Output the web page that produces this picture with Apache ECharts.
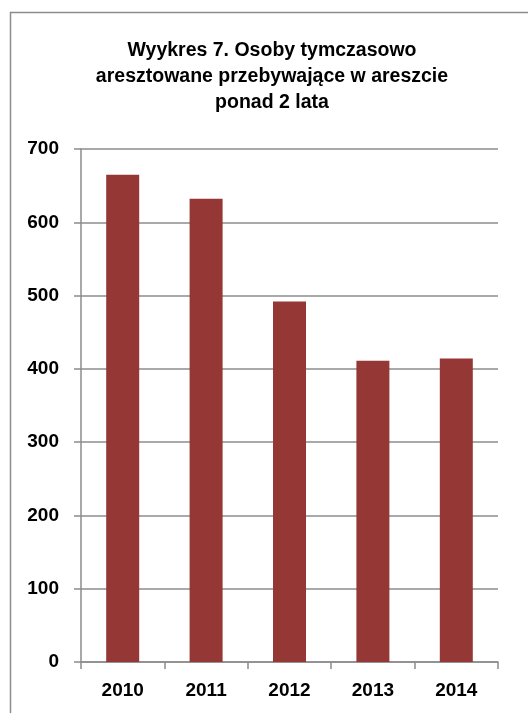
<!DOCTYPE html>
<html>
<head>
<meta charset="utf-8">
<script src="https://cdn.jsdelivr.net/npm/echarts@6/dist/echarts.min.js"></script>
<style>
  html, body { margin: 0; padding: 0; background: #fff; }
  #chart { width: 528px; height: 713px; }
</style>
</head>
<body>
<div id="chart"></div>
<script>
const years = ['2010', '2011', '2012', '2013', '2014']
const persons = [665, 632, 492, 411, 414]
const yTicks = [0, 100, 200, 300, 400, 500, 600, 700]

const font = '"Liberation Sans", Arial, sans-serif'
const gray = '#8c8c8c'

const chart = echarts.init(document.getElementById('chart'))

chart.setOption({
    animation: false,
    backgroundColor: '#fff',
    graphic: [
        {
            type: 'rect',
            shape: { x: 10.5, y: 12.5, width: 700, height: 900 },
            style: { fill: 'none', stroke: gray, lineWidth: 1.5 },
            silent: true,
        },
    ],
    title: {
        text: 'Wyykres 7. Osoby tymczasowo\naresztowane przebywające w areszcie\nponad 2 lata',
        left: 267,
        top: 33,
        textAlign: 'center',
        textStyle: {
            fontFamily: font,
            fontWeight: 'bold',
            fontSize: 19.5,
            lineHeight: 26,
            color: '#000',
        },
    },
    grid: {
        left: 81,
        right: 30,
        top: 149,
        bottom: 51,
    },
    xAxis: {
        type: 'category',
        data: years,
        axisLine: { lineStyle: { color: gray, width: 1.5 } },
        axisTick: { show: true, length: 7, lineStyle: { color: gray, width: 1.5 } },
        axisLabel: {
            margin: 19,
            fontFamily: font,
            fontWeight: 'bold',
            fontSize: 19,
            color: '#000',
        },
    },
    yAxis: {
        type: 'value',
        min: yTicks[0],
        max: yTicks[yTicks.length - 1],
        interval: 100,
        axisLine: { show: true, lineStyle: { color: gray, width: 1.5 } },
        axisTick: { show: true, length: 7, lineStyle: { color: gray, width: 1.5 } },
        splitLine: { lineStyle: { color: gray, width: 1.5 } },
        axisLabel: {
            margin: 22,
            fontFamily: font,
            fontWeight: 'bold',
            fontSize: 19,
            color: '#000',
        },
    },
    series: [
        {
            type: 'bar',
            data: persons,
            barWidth: 33,
            itemStyle: { color: '#953735' },
        },
    ],
})
</script>
</body>
</html>
